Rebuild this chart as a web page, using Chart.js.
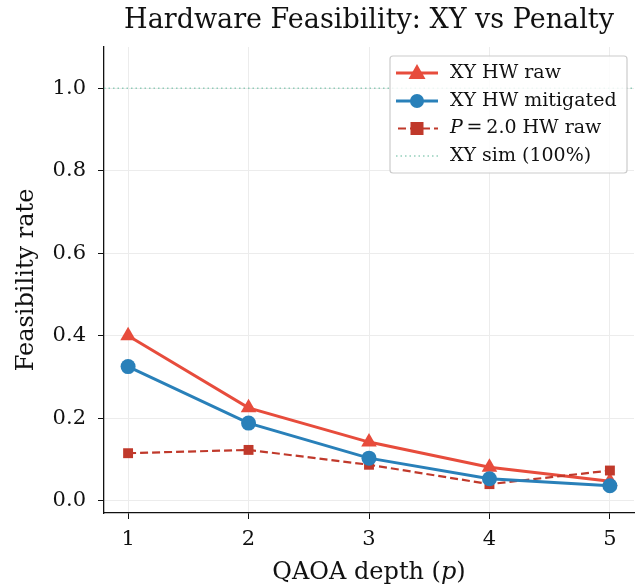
<!DOCTYPE html>
<html><head><meta charset="utf-8">
<script src="https://cdn.jsdelivr.net/npm/chart.js@4.4.1/dist/chart.umd.min.js"></script>
<style>html,body{margin:0;padding:0;background:#fff}#wrap{width:644px;height:588px}</style>
</head><body><div id="wrap"><canvas id="c" width="644" height="588"></canvas></div>
<script>
const depths = [1, 2, 3, 4, 5];
const xyRaw = [0.400, 0.225, 0.142, 0.081, 0.047];
const xyMitigated = [0.325, 0.188, 0.103, 0.053, 0.036];
const penaltyRaw = [0.115, 0.123, 0.087, 0.040, 0.073];
const simLevel = [1.0, 1.0];
const simX = [0.8, 5.2];
const yTicks = [0.0, 0.2, 0.4, 0.6, 0.8, 1.0];
const titleText = 'Hardware Feasibility: XY vs Penalty';

const SERIF = '"DejaVu Serif", "Liberation Serif", serif';
const pts = (xs, ys) => xs.map((x, i) => ({x: x, y: ys[i]}));

const RED = '#e74c3c', BLUE = '#2980b9', DRED = '#c0392b', GREEN = 'rgba(120,195,170,0.8)';

const customDraw = {
  id: 'customDraw',
  afterDraw(chart) {
    const ctx = chart.ctx;
    const ca = chart.chartArea;
    const cx = (ca.left + ca.right) / 2;
    ctx.save();
    // title
    ctx.fillStyle = '#111';
    ctx.textBaseline = 'middle';
    ctx.textAlign = 'center';
    ctx.font = '27px ' + SERIF;
    ctx.fillText(titleText, cx, 21);
    // axis titles
    ctx.textAlign = 'left';
    const AF = 24;
    ctx.font = AF + 'px ' + SERIF;
    const a = 'QAOA depth (', b = 'p', c = ')';
    const wa = ctx.measureText(a).width;
    ctx.font = 'italic ' + AF + 'px ' + SERIF;
    const wb = ctx.measureText(b).width;
    ctx.font = AF + 'px ' + SERIF;
    const wc = ctx.measureText(c).width;
    let x0 = cx - (wa + wb + wc) / 2;
    const ty = 573;
    ctx.fillText(a, x0, ty);
    ctx.font = 'italic ' + AF + 'px ' + SERIF;
    ctx.fillText(b, x0 + wa, ty);
    ctx.font = AF + 'px ' + SERIF;
    ctx.fillText(c, x0 + wa + wb, ty);
    ctx.save();
    ctx.translate(27, (ca.top + ca.bottom) / 2);
    ctx.rotate(-Math.PI / 2);
    ctx.textAlign = 'center';
    ctx.fillText('Feasibility rate', 0, 0);
    ctx.restore();

    // legend
    const lx = 390, ly = 56, lw = 237, lh = 117;
    ctx.fillStyle = 'rgba(255,255,255,0.85)';
    ctx.strokeStyle = '#cccccc';
    ctx.lineWidth = 1.2;
    ctx.beginPath();
    if (ctx.roundRect) ctx.roundRect(lx, ly, lw, lh, 3); else ctx.rect(lx, ly, lw, lh);
    ctx.fill(); ctx.stroke();
    const rows = [73, 101, 128.5, 156];
    const sx1 = 396, sx2 = 438, mx = 417, tx = 450;
    // row 1
    ctx.strokeStyle = RED; ctx.lineWidth = 3; ctx.setLineDash([]);
    ctx.beginPath(); ctx.moveTo(sx1, rows[0]); ctx.lineTo(sx2, rows[0]); ctx.stroke();
    ctx.fillStyle = RED;
    ctx.beginPath(); ctx.moveTo(mx, rows[0] - 9); ctx.lineTo(mx + 8.5, rows[0] + 6); ctx.lineTo(mx - 8.5, rows[0] + 6); ctx.closePath(); ctx.fill();
    // row 2
    ctx.strokeStyle = BLUE;
    ctx.beginPath(); ctx.moveTo(sx1, rows[1]); ctx.lineTo(sx2, rows[1]); ctx.stroke();
    ctx.fillStyle = BLUE;
    ctx.beginPath(); ctx.arc(mx, rows[1], 7, 0, Math.PI * 2); ctx.fill();
    // row 3
    ctx.strokeStyle = DRED; ctx.lineWidth = 2.2; ctx.setLineDash([8, 4]);
    ctx.beginPath(); ctx.moveTo(sx1 + 2, rows[2]); ctx.lineTo(sx2, rows[2]); ctx.stroke();
    ctx.setLineDash([]);
    ctx.fillStyle = DRED;
    ctx.fillRect(mx - 6.5, rows[2] - 6.5, 13, 13);
    // row 4
    ctx.strokeStyle = GREEN; ctx.lineWidth = 1.5; ctx.setLineDash([1.5, 3]);
    ctx.beginPath(); ctx.moveTo(sx1, rows[3]); ctx.lineTo(sx2, rows[3]); ctx.stroke();
    ctx.setLineDash([]);
    // text
    const LF = 19;
    ctx.fillStyle = '#111';
    ctx.textAlign = 'left';
    ctx.textBaseline = 'middle';
    ctx.font = LF + 'px ' + SERIF;
    ctx.fillText('XY HW raw', tx, rows[0]);
    ctx.fillText('XY HW mitigated', tx, rows[1]);
    ctx.font = 'italic ' + LF + 'px ' + SERIF;
    ctx.fillText('P', tx, rows[2]);
    const wp = ctx.measureText('P').width;
    ctx.font = LF + 'px ' + SERIF;
    ctx.fillText('\u2009=\u20092.0 HW raw', tx + wp, rows[2]);
    ctx.fillText('XY sim (100%)', tx, rows[3]);
    ctx.restore();
  }
};

new Chart(document.getElementById('c'), {
  type: 'line',
  data: {
    datasets: [
      {label: 'XY HW raw', data: pts(depths, xyRaw), borderColor: RED, backgroundColor: RED,
       borderWidth: 3, pointStyle: 'triangle', pointRadius: 9, pointBorderWidth: 0, order: 3},
      {label: 'XY HW mitigated', data: pts(depths, xyMitigated), borderColor: BLUE, backgroundColor: BLUE,
       borderWidth: 3, pointStyle: 'circle', pointRadius: 7.5, pointBorderWidth: 0, order: 1},
      {label: 'P=2.0 HW raw', data: pts(depths, penaltyRaw), borderColor: DRED, backgroundColor: DRED,
       borderWidth: 2.2, borderDash: [8, 4], pointStyle: 'rect', pointRadius: 7, pointBorderWidth: 0, order: 2},
      {label: 'XY sim (100%)', data: pts(simX, simLevel), borderColor: GREEN, borderWidth: 1.5,
       borderDash: [1.5, 3], pointRadius: 0, order: 4}
    ]
  },
  options: {
    responsive: false,
    animation: false,
    events: [],
    layout: {padding: {left: 0, right: 10, top: 47, bottom: 0}},
    plugins: {
      legend: {display: false},
      tooltip: {enabled: false},
      title: {display: false}
    },
    scales: {
      x: {
        type: 'linear', min: 0.8, max: 5.2,
        afterFit(s) { s.height = 75; },
        afterBuildTicks(s) { s.ticks = depths.map(v => ({value: v})); },
        ticks: {color: '#111', font: {family: SERIF, size: 21}, padding: 8, callback: v => String(v)},
        grid: {color: '#ececec', lineWidth: 1, drawTicks: true, tickLength: 6, tickColor: '#111'},
        border: {color: '#111', width: 1.3}
      },
      y: {
        min: -0.03, max: 1.1,
        afterFit(s) { s.width = 104; },
        afterBuildTicks(s) { s.ticks = yTicks.map(v => ({value: v})); },
        ticks: {color: '#111', font: {family: SERIF, size: 21}, padding: 12, callback: v => Number(v).toFixed(1)},
        grid: {color: '#ececec', lineWidth: 1, drawTicks: true, tickLength: 6, tickColor: '#111'},
        border: {color: '#111', width: 1.3}
      }
    }
  },
  plugins: [customDraw]
});
</script></body></html>
